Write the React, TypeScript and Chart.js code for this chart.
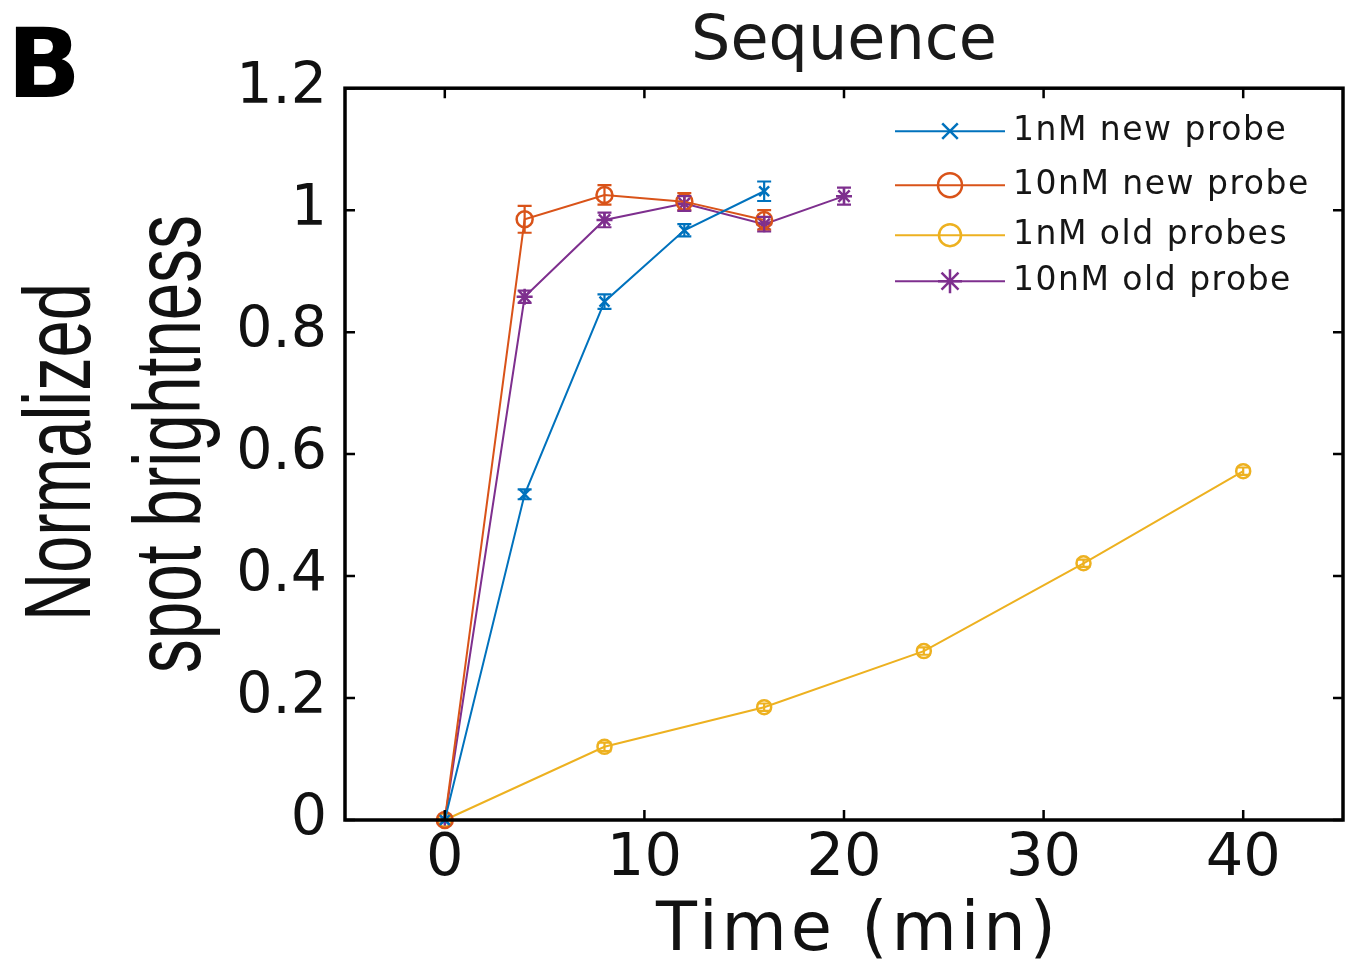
import React, { useEffect, useRef } from 'react';
import { Chart, registerables } from 'chart.js';
import { drawPoint } from 'chart.js/helpers';

Chart.register(...registerables);

// ---------- data ----------
const SERIES_LABELS = ['1nM new probe', '10nM new probe', '1nM old probes', '10nM old probe'];

const TIME_NEW_1NM = [0, 4, 8, 12, 16];
const VAL_NEW_1NM = [0, 0.534, 0.85, 0.967, 1.031];
const ERR_NEW_1NM = [0, 0.008, 0.012, 0.01, 0.016];

const TIME_NEW_10NM = [0, 4, 8, 12, 16];
const VAL_NEW_10NM = [0, 0.985, 1.025, 1.014, 0.984];
const ERR_NEW_10NM = [0, 0.022, 0.016, 0.014, 0.016];

const TIME_OLD_1NM = [0, 8, 16, 24, 32, 40];
const VAL_OLD_1NM = [0, 0.12, 0.185, 0.277, 0.421, 0.572];
const ERR_OLD_1NM = [0, 0.007, 0.006, 0.006, 0.006, 0.006];

const TIME_OLD_10NM = [0, 4, 8, 12, 16, 20];
const VAL_OLD_10NM = [0, 0.858, 0.984, 1.011, 0.977, 1.023];
const ERR_OLD_10NM = [0, 0.01, 0.012, 0.012, 0.012, 0.014];

const X_TICKS = [0, 10, 20, 30, 40];
const Y_TICKS = [0, 0.2, 0.4, 0.6, 0.8, 1, 1.2];

const TITLE = 'Sequence';
const X_TITLE = 'Time (min)';
const Y_TITLE_LINES = ['Normalized', 'spot brightness'];
const PANEL_LETTER = 'B';

const COLORS = ['#0072BD', '#D95319', '#EDB120', '#7E2F8E'];
const POINT_STYLES = ['crossRot', 'circle', 'circle', 'star'];
const POINT_RADII = [7, 8, 7, 8];

const toPoints = (xs: number[], ys: number[]) => xs.map((x, i) => ({ x, y: ys[i] }));

const errorBarPlugin = {
  id: 'errorBars',
  afterDatasetsDraw(chart: any) {
    const { ctx, scales } = chart;
    const xS = scales.x;
    const yS = scales.y;
    chart.data.datasets.forEach((ds: any) => {
      const errs: number[] = ds.errors || [];
      ctx.save();
      ctx.strokeStyle = ds.borderColor;
      ctx.lineWidth = 2.2;
      ds.data.forEach((p: any, i: number) => {
        const e = errs[i];
        if (!e) return;
        const px = xS.getPixelForValue(p.x);
        const y1 = yS.getPixelForValue(p.y - e);
        const y2 = yS.getPixelForValue(p.y + e);
        const cap = 7;
        ctx.beginPath();
        ctx.moveTo(px, y1);
        ctx.lineTo(px, y2);
        ctx.moveTo(px - cap, y1);
        ctx.lineTo(px + cap, y1);
        ctx.moveTo(px - cap, y2);
        ctx.lineTo(px + cap, y2);
        ctx.stroke();
      });
      ctx.restore();
    });
  },
};

const boxPlugin = {
  id: 'boxTicks',
  afterDraw(chart: any) {
    const { ctx, chartArea: a, scales } = chart;
    ctx.save();
    ctx.strokeStyle = '#000';
    ctx.lineWidth = 2.5;
    const tl = 10;
    ctx.beginPath();
    X_TICKS.forEach((v) => {
      const px = scales.x.getPixelForValue(v);
      ctx.moveTo(px, a.bottom);
      ctx.lineTo(px, a.bottom - tl);
      ctx.moveTo(px, a.top);
      ctx.lineTo(px, a.top + tl);
    });
    Y_TICKS.forEach((v) => {
      const py = scales.y.getPixelForValue(v);
      ctx.moveTo(a.left, py);
      ctx.lineTo(a.left + tl, py);
      ctx.moveTo(a.right, py);
      ctx.lineTo(a.right - tl, py);
    });
    ctx.stroke();
    ctx.lineWidth = 3.5;
    ctx.strokeRect(a.left, a.top, a.right - a.left, a.bottom - a.top);
    ctx.restore();
  },
};

const legendPlugin = {
  id: 'matlabLegend',
  afterDraw(chart: any) {
    const { ctx, chartArea: a } = chart;
    const x0 = a.right - 448;
    const x1 = a.right - 338;
    const tx = a.right - 330;
    const rows = [43, 97, 147, 193];
    ctx.save();
    chart.data.datasets.forEach((ds: any, i: number) => {
      const y = a.top + rows[i];
      ctx.strokeStyle = ds.borderColor;
      ctx.lineWidth = 2;
      ctx.beginPath();
      ctx.moveTo(x0, y);
      ctx.lineTo(x1, y);
      ctx.stroke();
      ctx.fillStyle = 'rgba(0,0,0,0)';
      ctx.strokeStyle = ds.borderColor;
      ctx.lineWidth = 2.5;
      drawPoint(
        ctx,
        { pointStyle: ds.pointStyle, radius: ds.legendRadius, rotation: 0, borderWidth: 2.5 } as any,
        (x0 + x1) / 2,
        y
      );
      ctx.fillStyle = '#161616';
      ctx.font = '33px "DejaVu Sans"';
      (ctx as any).letterSpacing = '1.5px';
      ctx.textBaseline = 'middle';
      ctx.textAlign = 'left';
      ctx.fillText(ds.label, tx, y);
    });
    ctx.restore();
  },
};

const textPlugin = {
  id: 'extraText',
  afterDraw(chart: any) {
    const { ctx, chartArea: a } = chart;
    ctx.save();
    // panel letter
    ctx.fillStyle = '#000';
    ctx.font = 'bold 97px "DejaVu Sans"';
    ctx.textBaseline = 'alphabetic';
    ctx.textAlign = 'left';
    ctx.fillText(PANEL_LETTER, 7, 97);

    // y-axis title (two condensed lines)
    const cy = (a.top + a.bottom) / 2;
    ctx.fillStyle = '#111';
    ctx.font = '94px "Liberation Sans"';
    ctx.textAlign = 'center';
    const baselines = [90, 200];
    const widths = [338, 458];
    const centers = [cy - 2, cy - 10];
    Y_TITLE_LINES.forEach((line, i) => {
      ctx.save();
      ctx.translate(baselines[i], centers[i]);
      ctx.rotate(-Math.PI / 2);
      ctx.fillText(line, 0, 0, widths[i]);
      ctx.restore();
    });

    // x-axis title
    ctx.font = '67px "DejaVu Sans"';
    (ctx as any).letterSpacing = '4px';
    ctx.textAlign = 'center';
    ctx.textBaseline = 'alphabetic';
    ctx.fillText(X_TITLE, (a.left + a.right) / 2 + 14, 950);
    ctx.restore();
  },
};

export default function App() {
  const canvasRef = useRef<HTMLCanvasElement | null>(null);

  useEffect(() => {
    const canvas = canvasRef.current;
    if (!canvas) return;
    const seriesX = [TIME_NEW_1NM, TIME_NEW_10NM, TIME_OLD_1NM, TIME_OLD_10NM];
    const seriesY = [VAL_NEW_1NM, VAL_NEW_10NM, VAL_OLD_1NM, VAL_OLD_10NM];
    const seriesE = [ERR_NEW_1NM, ERR_NEW_10NM, ERR_OLD_1NM, ERR_OLD_10NM];

    const datasets = SERIES_LABELS.map((label, i) => ({
      label,
      data: toPoints(seriesX[i], seriesY[i]),
      errors: seriesE[i],
      borderColor: COLORS[i],
      backgroundColor: 'rgba(0,0,0,0)',
      pointBackgroundColor: 'rgba(0,0,0,0)',
      pointBorderColor: COLORS[i],
      pointStyle: POINT_STYLES[i],
      pointRadius: POINT_RADII[i],
      legendRadius: POINT_RADII[i] + 4,
      pointBorderWidth: 2.5,
      borderWidth: 2,
      showLine: true,
      tension: 0,
      clip: false,
    }));

    const chart = new Chart(canvas, {
      type: 'scatter',
      data: { datasets } as any,
      options: {
        animation: false,
        responsive: false,
        layout: { autoPadding: false, padding: { left: 0, right: 4, top: 0, bottom: 0 } },
        plugins: {
          legend: { display: false },
          tooltip: { enabled: false },
          title: {
            display: true,
            text: TITLE,
            fullSize: false,
            color: '#1a1a1a',
            font: { family: '"DejaVu Sans"', size: 62, weight: 'normal', lineHeight: 1.1 },
            padding: { top: 9, bottom: 11 },
          },
        },
        scales: {
          x: {
            type: 'linear',
            min: -5,
            max: 45,
            afterBuildTicks: (s: any) => {
              s.ticks = X_TICKS.map((v) => ({ value: v }));
            },
            afterFit: (s: any) => {
              s.height = 141;
            },
            grid: { display: false, drawTicks: false },
            border: { display: false },
            ticks: {
              color: '#111',
              padding: 4,
              font: { family: '"DejaVu Sans"', size: 59 },
              maxRotation: 0,
            },
            title: { display: false },
          },
          y: {
            type: 'linear',
            min: 0,
            max: 1.2,
            afterBuildTicks: (s: any) => {
              s.ticks = Y_TICKS.map((v) => ({ value: v }));
            },
            afterFit: (s: any) => {
              s.width = 345;
            },
            grid: { display: false, drawTicks: false },
            border: { display: false },
            ticks: {
              color: '#111',
              padding: 18,
              font: { family: '"DejaVu Sans"', size: 57 },
              callback: (v: any) => String(Number(Number(v).toFixed(1))),
            },
            title: { display: false },
          },
        },
      } as any,
      plugins: [errorBarPlugin, boxPlugin, legendPlugin, textPlugin],
    });
    return () => chart.destroy();
  }, []);

  return (
    <div style={{ position: 'absolute', left: 0, top: 0, width: 1347, height: 961, background: '#fff' }}>
      <canvas ref={canvasRef} width={1347} height={961} style={{ display: 'block' }} />
    </div>
  );
}
